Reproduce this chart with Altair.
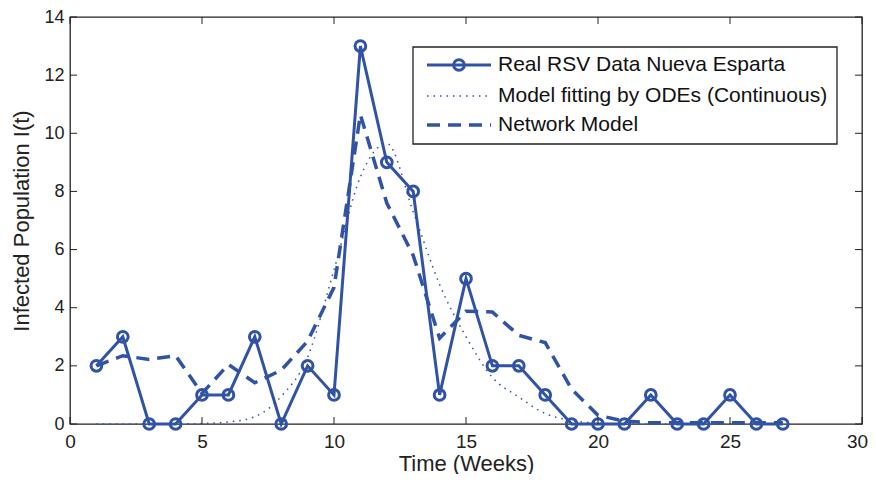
import altair as alt
import pandas as pd

weeks = list(range(1, 28))
real_data = [2, 3, 0, 0, 1, 1, 3, 0, 2, 1, 13, 9, 8, 1, 5, 2, 2, 1, 0, 0, 0, 1, 0, 0, 1, 0, 0]
ode_fit = [0, 0, 0, 0, 0.02, 0.07, 0.25, 0.95, 2.3, 5.3, 8.5, 9.65, 7.3, 4.8, 3.0, 1.6, 0.93,
           0.36, 0.12, 0.03, 0, 0, 0, 0, 0, 0, 0]
network = [2.0, 2.35, 2.22, 2.35, 1.05, 2.05, 1.42, 1.85, 2.85, 4.7, 10.64, 7.6, 5.8, 2.95, 3.88,
           3.85, 3.05, 2.8, 1.2, 0.3, 0.1, 0.04, 0.04, 0.04, 0.04, 0.04, 0.04]
x_ticks = [0, 5, 10, 15, 20, 25, 30]
y_ticks = [0, 2, 4, 6, 8, 10, 12, 14]
legend_labels = ["Real RSV Data Nueva Esparta", "Model fitting by ODEs (Continuous)", "Network Model"]

BLUE = "#3153A5"
FONT = "Liberation Sans"
TOP = 9
LEFT = 62
W, H = 792, 424 - 8 - TOP

df = pd.DataFrame({"week": weeks, "real": real_data, "ode": ode_fit, "net": network})
xt = pd.DataFrame({"v": x_ticks})
yt = pd.DataFrame({"v": y_ticks})

xs = alt.Scale(domain=[0, 30], nice=False)
ys = alt.Scale(domain=[0, 14], nice=False)

x_enc = alt.X("week:Q", scale=xs,
              axis=alt.Axis(values=x_ticks, title="Time (Weeks)", ticks=False, domain=False, grid=False,
                            labelFontSize=19, labelPadding=8, titleFontSize=22, titlePadding=2,
                            labelFlush=False,
                            labelOffset={"condition": {"test": "datum.value == 30", "value": -5}, "value": 0},
                            labelFont=FONT, titleFont=FONT, titleFontWeight="normal",
                            labelColor="#222", titleColor="#222"))
y_axis = alt.Axis(values=y_ticks, title="Infected Population I(t)", ticks=False, domain=False, grid=False,
                  labelFontSize=18, labelPadding=6, titleFontSize=22, titlePadding=10,
                  labelFlush=False,
                  labelFont=FONT, titleFont=FONT, titleFontWeight="normal",
                  labelColor="#222", titleColor="#222")

base = alt.Chart(df)

ode_line = base.mark_line(color=BLUE, strokeWidth=1.5, strokeDash=[1.5, 5], interpolate="monotone").encode(
    x=x_enc, y=alt.Y("ode:Q", scale=ys, axis=y_axis))
net_line = base.mark_line(color=BLUE, strokeWidth=3.5, strokeDash=[13, 8]).encode(
    x=alt.X("week:Q", scale=xs), y=alt.Y("net:Q", scale=ys))
real_line = base.mark_line(color=BLUE, strokeWidth=3).encode(
    x=alt.X("week:Q", scale=xs), y=alt.Y("real:Q", scale=ys))
real_pts = base.mark_point(color=BLUE, shape="circle", size=115, strokeWidth=3, filled=False, opacity=1).encode(
    x=alt.X("week:Q", scale=xs), y=alt.Y("real:Q", scale=ys))

TK = 7
tick_style = dict(color="#222", strokeWidth=1)
xt_bot = alt.Chart(xt).mark_rule(**tick_style).encode(
    x=alt.X("v:Q", scale=xs), y=alt.value(H), y2=alt.value(H - TK))
xt_top = alt.Chart(xt).mark_rule(**tick_style).encode(
    x=alt.X("v:Q", scale=xs), y=alt.value(0), y2=alt.value(TK))
yt_left = alt.Chart(yt).mark_rule(**tick_style).encode(
    y=alt.Y("v:Q", scale=ys), x=alt.value(0), x2=alt.value(TK))
yt_right = alt.Chart(yt).mark_rule(**tick_style).encode(
    y=alt.Y("v:Q", scale=ys), x=alt.value(W), x2=alt.value(W - TK))

# manual legend (MATLAB-style box), positions in plot-area pixels
OFFY = 8 + TOP
OFFX = 8 + LEFT
LX0, LX1, LY0, LY1 = 413 - OFFX, 837 - OFFX, 47 - OFFY, 144 - OFFY
rows = [65 - OFFY, 96 - OFFY, 125 - OFFY]
lx_a, lx_b, lx_text = 427 - OFFX, 491 - OFFX, 498 - OFFX
leg = pd.DataFrame({"label": legend_labels})
leg_box = alt.Chart(leg.head(1)).mark_rect(fill="white", stroke="#222", strokeWidth=1.3).encode(
    x=alt.value(LX0), x2=alt.value(LX1), y=alt.value(LY0), y2=alt.value(LY1))
leg_l1 = alt.Chart(leg.head(1)).mark_rule(color=BLUE, strokeWidth=3).encode(
    x=alt.value(lx_a), x2=alt.value(lx_b), y=alt.value(rows[0]))
leg_p1 = alt.Chart(leg.head(1)).mark_point(color=BLUE, shape="circle", size=115, strokeWidth=3,
                                           filled=False, opacity=1).encode(
    x=alt.value((lx_a + lx_b) / 2), y=alt.value(rows[0]))
leg_l2 = alt.Chart(leg.head(1)).mark_rule(color=BLUE, strokeWidth=1.5, strokeDash=[1.5, 5]).encode(
    x=alt.value(lx_a), x2=alt.value(lx_b), y=alt.value(rows[1]))
leg_l3 = alt.Chart(leg.head(1)).mark_rule(color=BLUE, strokeWidth=3.5, strokeDash=[13, 8]).encode(
    x=alt.value(lx_a), x2=alt.value(lx_b), y=alt.value(rows[2]))
leg_txt = [
    alt.Chart(leg.iloc[[i]]).mark_text(align="left", baseline="middle", font=FONT, fontSize=21,
                                       color="#111").encode(
        x=alt.value(lx_text), y=alt.value(rows[i]), text="label:N")
    for i in range(3)
]

chart = alt.layer(
    ode_line, net_line, real_line, real_pts,
    xt_bot, xt_top, yt_left, yt_right,
    leg_box, leg_l1, leg_p1, leg_l2, leg_l3, *leg_txt
).properties(
    width=W, height=H,
    autosize=alt.AutoSizeParams(type="none"),
    padding={"left": LEFT, "top": TOP, "right": 6, "bottom": 50},
    background="white",
).configure_view(stroke="#222", strokeWidth=1.3)

chart.save("out.html", embed_options={"renderer": "svg", "actions": False})
